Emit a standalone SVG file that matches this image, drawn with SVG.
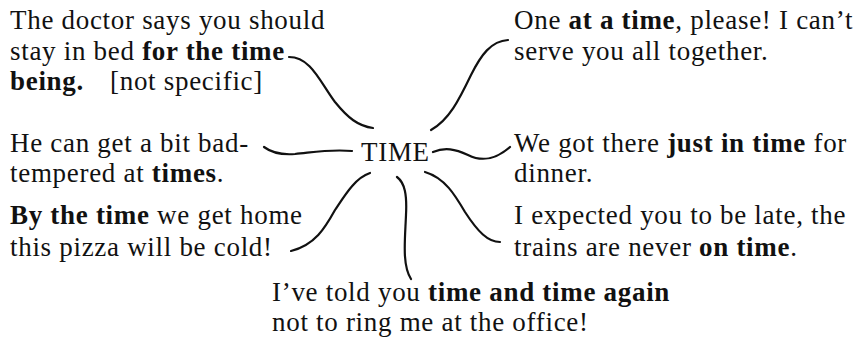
<svg xmlns="http://www.w3.org/2000/svg" width="853" height="339" viewBox="0 0 853 339">
<style>
text{font-family:"Liberation Serif","Times New Roman",serif;font-size:27px;fill:#111;letter-spacing:0.7px}
.b{font-weight:bold}
.c{fill:none;stroke:#111;stroke-width:2.2;stroke-linecap:round}
</style>
<rect width="853" height="339" fill="#fff"/>
<g id="connectors">
<path class="c" d="M289,57 C311,57 320,82 335,102 C348,118 358,126 373,128"/>
<path class="c" d="M508,40 C491,41 481,55 471,75 C459,100 449,120 431,130"/>
<path class="c" d="M264,147 C272,153 282,155 295,154 C315,152 330,149 352,151"/>
<path class="c" d="M433,152 C445,147 455,149 468,155 C482,162 495,160 510,147"/>
<path class="c" d="M370,173 C355,178 345,195 335,210 C325,228 315,245 291,251"/>
<path class="c" d="M397,177 C405,183 407,195 406,215 C405,240 402,265 411,279"/>
<path class="c" d="M425,172 C445,178 455,195 465,212 C478,232 488,242 500,242"/>
</g>
<g id="center"><text x="361" y="161">TIME</text></g>
<g id="n-time-being">
<text x="10" y="29">The doctor says you should</text>
<text x="10" y="60">stay in bed <tspan class="b">for the time</tspan></text>
<text x="10" y="90"><tspan class="b">being.</tspan></text>
<text x="110" y="90">[not specific]</text>
</g>
<g id="n-at-a-time">
<text x="514" y="29">One <tspan class="b">at a time</tspan>, please! I can’t</text>
<text x="514" y="60">serve you all together.</text>
</g>
<g id="n-at-times">
<text x="10" y="152">He can get a bit bad-</text>
<text x="10" y="182">tempered at <tspan class="b">times</tspan>.</text>
</g>
<g id="n-just-in-time">
<text x="514" y="152">We got there <tspan class="b">just in time</tspan> for</text>
<text x="514" y="182">dinner.</text>
</g>
<g id="n-by-the-time">
<text x="10" y="224"><tspan class="b">By the time</tspan> we get home</text>
<text x="10" y="256">this pizza will be cold!</text>
</g>
<g id="n-on-time">
<text x="514" y="224">I expected you to be late, the</text>
<text x="514" y="256">trains are never <tspan class="b">on time</tspan>.</text>
</g>
<g id="n-time-and-time-again">
<text x="272" y="301">I’ve told you <tspan class="b">time and time again</tspan></text>
<text x="272" y="331">not to ring me at the office!</text>
</g>
</svg>
